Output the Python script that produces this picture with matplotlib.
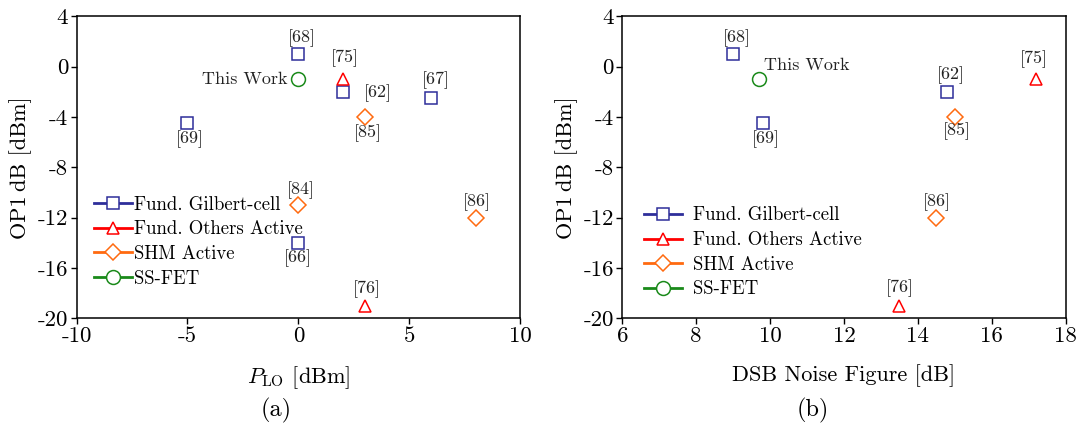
import matplotlib
matplotlib.use("Agg")
import matplotlib.pyplot as plt

plt.rcParams['font.family'] = ['cmr10', 'DejaVu Serif']
plt.rcParams['mathtext.fontset'] = 'cm'
plt.rcParams['axes.unicode_minus'] = False
plt.rcParams['axes.formatter.use_mathtext'] = False

# ---- data ----
series_names = ["Fund. Gilbert-cell", "Fund. Others Active", "SHM Active", "SS-FET"]
colors = ["#2e2e9a", "#ff0000", "#ff6a10", "#1a8a1a"]
markers = ["s", "^", "D", "o"]
msizes = [9, 9, 8, 10]

# (a) P_LO vs OP1dB
a_gil_x = [0, 2, 6, -5, 0]
a_gil_y = [1, -2, -2.5, -4.5, -14]
a_oth_x = [2, 3]
a_oth_y = [-1, -19]
a_shm_x = [3, 0, 8]
a_shm_y = [-4, -11, -12]
a_ss_x = [0]
a_ss_y = [-1]
a_labels = ["[68]", "[75]", "[62]", "[67]", "[69]", "[85]", "[84]", "[86]", "[66]", "[76]", "This Work"]
a_label_pos = [(0.15, 2.25), (2.1, 0.67), (3.57, -2.1), (6.2, -1.08), (-4.9, -5.8),
               (3.12, -5.3), (0.1, -9.8), (8.07, -10.8), (0.0, -15.2), (3.1, -17.7), (-0.5, -1.0)]
a_label_ha = ["center"] * 10 + ["right"]

# (b) DSB NF vs OP1dB
b_gil_x = [9, 9.8, 14.8]
b_gil_y = [1, -4.5, -2]
b_oth_x = [17.2, 13.5]
b_oth_y = [-1, -19]
b_shm_x = [15, 14.5]
b_shm_y = [-4, -12]
b_ss_x = [9.7]
b_ss_y = [-1]
b_labels = ["[68]", "This Work", "[69]", "[62]", "[85]", "[75]", "[86]", "[76]"]
b_label_pos = [(9.1, 2.25), (9.83, 0.1), (9.88, -5.8), (14.9, -0.7), (15.05, -5.1),
               (17.15, 0.55), (14.5, -10.8), (13.5, -17.6)]
b_label_ha = ["center", "left", "center", "center", "center", "center", "center", "center"]

yticks = [4, 0, -4, -8, -12, -16, -20]
a_xticks = [-10, -5, 0, 5, 10]
b_xticks = [6, 8, 10, 12, 14, 16, 18]

fig = plt.figure(figsize=(10.78, 4.25), dpi=100)
axA = fig.add_axes([0.0711, 0.251, 0.4113, 0.711])
axB = fig.add_axes([0.5773, 0.251, 0.4113, 0.711])

def draw(ax, data, labels, pos, has, xlim, xticks, xlabel, cap, capx, leg_anchor, textpad):
    handles = []
    for (xs, ys), name, c, m, ms in zip(data, series_names, colors, markers, msizes):
        ax.plot(xs, ys, linestyle='none', marker=m, markersize=ms, markerfacecolor='none',
                markeredgecolor=c, markeredgewidth=1.1, clip_on=False)
        h, = ax.plot([], [], color=c, marker=m, markersize=ms, markerfacecolor='white',
                     markeredgecolor=c, markeredgewidth=1.1, linewidth=2, label=name)
        handles.append(h)
    for t, (x, y), ha in zip(labels, pos, has):
        ax.text(x, y, t, ha=ha, va='center', fontsize=13, color='#222222')
    ax.set_xlim(*xlim)
    ax.set_ylim(-20, 4)
    ax.set_xticks(xticks)
    ax.set_yticks(yticks)
    ax.tick_params(direction='out', length=4, width=1, labelsize=16.5, pad=2,
                   top=False, right=False)
    for s in ax.spines.values():
        s.set_linewidth(1.1)
    ax.set_ylabel("OP1\u2009dB [dBm]", fontsize=16, labelpad=4)
    ax.set_xlabel(xlabel, fontsize=16, labelpad=13)
    ax.text(capx, -0.305, cap, transform=ax.transAxes, ha='center', va='center',
            fontsize=17.5)
    ax.legend(handles=handles, loc='upper left', bbox_to_anchor=leg_anchor, frameon=False,
              fontsize=13.5, handlelength=2.0, handletextpad=textpad, labelspacing=0.36,
              borderaxespad=0, borderpad=0)

draw(axA, [(a_gil_x, a_gil_y), (a_oth_x, a_oth_y), (a_shm_x, a_shm_y), (a_ss_x, a_ss_y)],
     a_labels, a_label_pos, a_label_ha, (-10, 10), a_xticks, r"$P_{\mathrm{LO}}$ [dBm]", "(a)", 0.45,
     (0.04, 0.406), 0.1)
draw(axB, [(b_gil_x, b_gil_y), (b_oth_x, b_oth_y), (b_shm_x, b_shm_y), (b_ss_x, b_ss_y)],
     b_labels, b_label_pos, b_label_ha, (6, 18), b_xticks, "DSB Noise Figure [dB]", "(b)", 0.43,
     (0.05, 0.37), 0.6)

fig.savefig("out.png", dpi=100)
